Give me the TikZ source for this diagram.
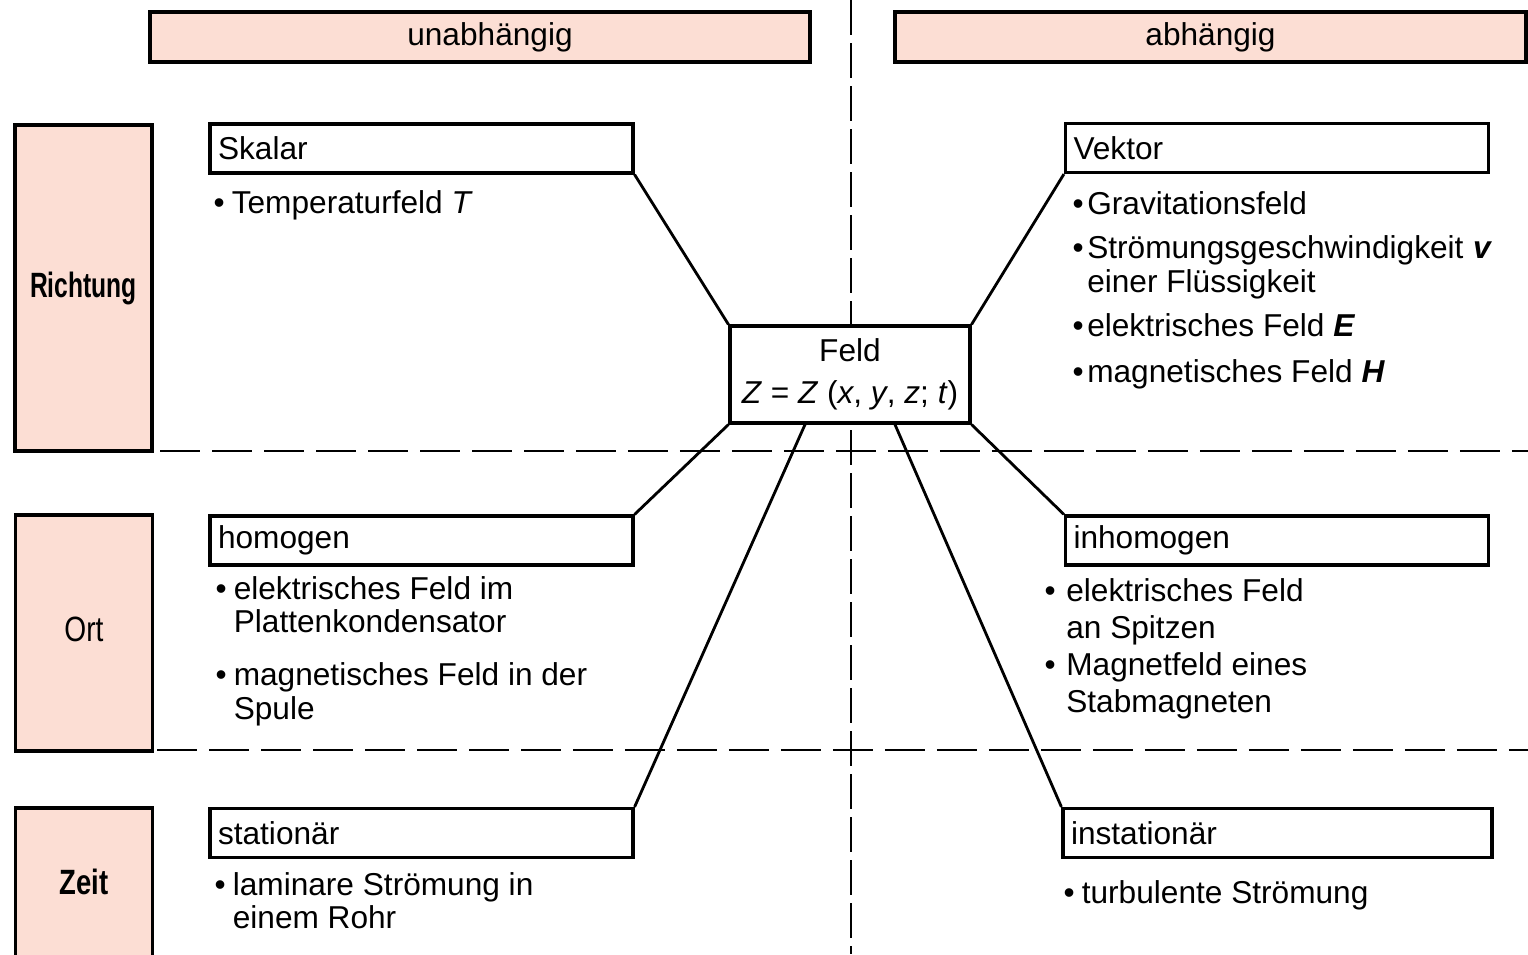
\documentclass[tikz,border=0pt]{standalone}
\usepackage{fontspec}
\setmainfont{Liberation Sans}
\usepackage{graphicx}
\usepackage{tikz}
\usetikzlibrary{positioning}

\definecolor{rosa}{RGB}{252,222,212}

\tikzset{
  kopf/.style = {shape=rectangle, draw, line width=0.9pt, fill=rosa,
    minimum height=5mm, inner sep=0pt},
  zeile/.style = {shape=rectangle, draw, line width=0.9pt, fill=rosa,
    minimum width=13.7mm, inner sep=0pt, font=\fontsize{10}{12}\selectfont},
  art/.style = {shape=rectangle, draw, line width=0.9pt, fill=white,
    text width=40.7mm, align=left, minimum height=4.9mm, inner xsep=0.8mm,
    inner ysep=0pt},
  liste/.style = {anchor=base west, inner sep=0pt, align=left},
  verbindung/.style = {line width=0.8pt},
  trenner/.style = {line width=0.7pt, dash pattern=on 4mm off 1.2mm},
}
\newcommand{\pkt}{\textbullet}
\newcommand{\zl}[2]{\scalebox{#1}[1]{#2}}

\begin{document}
\begin{tikzpicture}[x=0.1mm, y=-0.1mm, font=\fontsize{9}{9.6}\selectfont]
  \useasboundingbox (0,0) rectangle (1528,954);

  % Trennlinien
  \draw[line width=0.7pt, dash pattern=on 3.5mm off 0.8mm] (851,0) -- (851,954);
  \draw[trenner] (160,451) -- (1528,451);
  \draw[trenner] (157,750) -- (1528,750);

  % Kopfzeile
  \node[kopf, minimum width=66mm] (unabh) at (480,37) {\hspace{2mm}unabhängig};
  \node[kopf, minimum width=63.1mm] (abh) at (1210.5,37) {abhängig};

  % linke Spalte
  \node[zeile, minimum height=32.6mm] (richtung) at (83.5,288) {\raisebox{1pt}{\zl{0.7}{\bfseries Richtung}}};
  \node[zeile, minimum height=23.6mm] (ort) at (84,633) {\raisebox{2pt}{\zl{0.8}{Ort}}};
  \node[zeile, minimum height=15.4mm] (zeit) at (84,885) {\raisebox{2pt}{\zl{0.78}{\bfseries Zeit}}};

  % Mitte
  \node[shape=rectangle, draw, line width=0.9pt, fill=white,
    minimum width=24mm, minimum height=9.7mm, align=center,
    inner sep=0pt] (feld) at (850,374.5)
    {Feld\\[2.2pt] \textit{Z} = \textit{Z} (\textit{x}, \textit{y}, \textit{z}; \textit{t})};

  % Kaesten
  \node[art] (skalar) at (421.5,148.5) {Skalar};
  \node[art] (vektor) at (1277,148) {Vektor};
  \node[art] (homogen) at (421.5,540.5) {homogen};
  \node[art] (inhomogen) at (1277,540.5) {inhomogen};
  \node[art] (stationaer) at (421.5,833) {stationär};
  \node[art, text width=41.3mm] (instationaer) at (1277.5,833) {instationär};

  % Beispiele
  \node[liste] (skalarliste) at (213,213)
    {\begin{tabular}[t]{@{}l@{\hspace{2pt}}l@{}}
      \pkt & Temperaturfeld \textit{T}
    \end{tabular}};
  \node[liste] (vektorliste) at (1072,214)
    {\begin{tabular}[t]{@{}l@{\hspace{1pt}}l@{}}
      \pkt & Gravitationsfeld\\[3pt]
      \pkt & Strömungsgeschwindigkeit\hspace{0.3em}\textbf{\textit{v}}\\
           & einer Flüssigkeit\\[3pt]
      \pkt & elektrisches Feld \textbf{\textit{E}}\\[3.5pt]
      \pkt & magnetisches Feld \textbf{\textit{H}}
    \end{tabular}};
  \node[liste] (homogenliste) at (215,599)
    {\begin{tabular}[t]{@{}l@{\hspace{2pt}}l@{}}
      \pkt & elektrisches Feld im\\
           & Plattenkondensator\\[5.5pt]
      \pkt & magnetisches Feld in der\\
           & Spule
    \end{tabular}};
  \node[liste] (inhomogenliste) at (1044,601)
    {\begin{tabular}[t]{@{}l@{\hspace{3pt}}l@{}}
      \pkt & elektrisches Feld\\[1pt]
           & an Spitzen\\[1pt]
      \pkt & Magnetfeld eines\\[1pt]
           & Stabmagneten
    \end{tabular}};
  \node[liste] (stationaerliste) at (214,895)
    {\begin{tabular}[t]{@{}l@{\hspace{2pt}}l@{}}
      \pkt & laminare Strömung in\\
           & einem Rohr
    \end{tabular}};
  \node[liste] (instationaerliste) at (1063,903)
    {\begin{tabular}[t]{@{}l@{\hspace{2pt}}l@{}}
      \pkt & turbulente Strömung
    \end{tabular}};

  % Verbindungen
  \draw[verbindung] (skalar.south east) -- (feld.north west);
  \draw[verbindung] (vektor.south west) -- (feld.north east);
  \draw[verbindung] (feld.south west) -- (homogen.north east);
  \draw[verbindung] (feld.south east) -- (inhomogen.north west);
  \draw[verbindung] ([xshift=-4.5mm]feld.south) -- (stationaer.north east);
  \draw[verbindung] ([xshift=4.5mm]feld.south) -- (instationaer.north west);
\end{tikzpicture}
\end{document}
